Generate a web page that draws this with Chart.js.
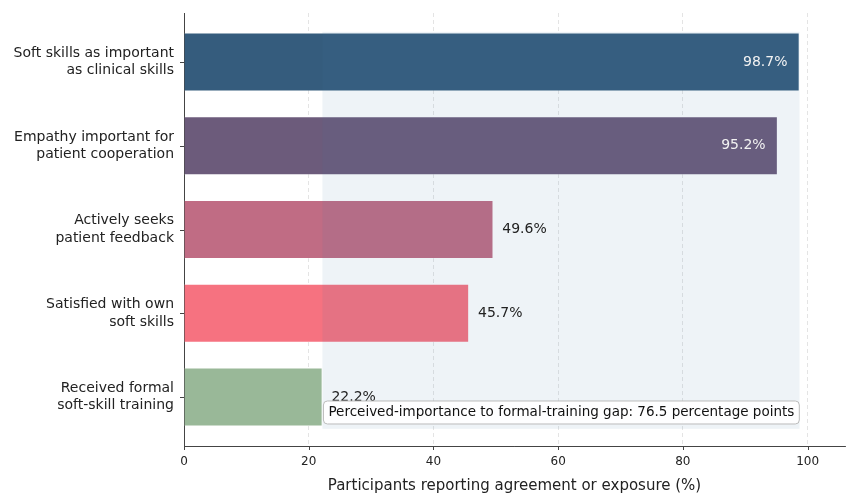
<!DOCTYPE html>
<html>
<head>
<meta charset="utf-8">
<script src="https://cdn.jsdelivr.net/npm/chart.js@4/dist/chart.umd.min.js"></script>
<style>
  body { margin: 0; background: #fff; }
  #wrap { width: 846px; height: 495px; }
</style>
</head>
<body>
<div id="wrap"><canvas id="gapChart"></canvas></div>
<script>
// data
const categories = [
  ['Soft skills as important', 'as clinical skills'],
  ['Empathy important for', 'patient cooperation'],
  ['Actively seeks', 'patient feedback'],
  ['Satisfied with own', 'soft skills'],
  ['Received formal', 'soft-skill training']
];
const values = [98.7, 95.2, 49.6, 45.7, 22.2];
const barColors = ['#355C7D', '#6C5B7B', '#C06C84', '#F67280', '#99B898'];
const xTicks = [0, 20, 40, 60, 80, 100];
const xTitle = 'Participants reporting agreement or exposure (%)';

const FONT = '"DejaVu Sans", sans-serif';

const extras = {
  id: 'extras',
  afterDatasetsDraw(chart) {
    const ctx = chart.ctx;
    const x = chart.scales.x, y = chart.scales.y;
    const meta = chart.getDatasetMeta(0);
    const hi = Math.max(...values), lo = Math.min(...values);
    const x0 = x.getPixelForValue(lo), x1 = x.getPixelForValue(hi);
    const yTop = y.getPixelForValue(-0.36), yBot = y.getPixelForValue(4.38);

    ctx.save();
    // shaded gap between highest and lowest
    ctx.fillStyle = 'rgba(70,120,170,0.09)';
    ctx.fillRect(x0, yTop, x1 - x0, yBot - yTop);

    // value labels
    ctx.font = '14px ' + FONT;
    ctx.textBaseline = 'middle';
    meta.data.forEach((bar, i) => {
      const txt = values[i].toFixed(1) + '%';
      if (values[i] > 90) {
        ctx.fillStyle = '#f2f2f2';
        ctx.textAlign = 'right';
        ctx.fillText(txt, bar.x - 12, bar.y);
      } else {
        ctx.fillStyle = '#222';
        ctx.textAlign = 'left';
        ctx.fillText(txt, bar.x + 9, bar.y);
      }
    });

    // gap annotation
    const note = 'Perceived-importance to formal-training gap: ' + (hi - lo).toFixed(1) + ' percentage points';
    ctx.font = '13.5px ' + FONT;
    const w = ctx.measureText(note).width;
    const bx = x0 + 1, by = y.getPixelForValue(4.185);
    ctx.beginPath();
    ctx.roundRect(bx, by - 11.5, w + 10, 23, 4);
    ctx.fillStyle = 'rgba(255,255,255,0.92)';
    ctx.fill();
    ctx.strokeStyle = '#bbbbbb';
    ctx.lineWidth = 1;
    ctx.stroke();
    ctx.fillStyle = '#111';
    ctx.textAlign = 'left';
    ctx.fillText(note, bx + 5, by + 0.5);

    // tick marks
    ctx.strokeStyle = '#444';
    ctx.lineWidth = 1;
    ctx.beginPath();
    xTicks.forEach(v => {
      const px = Math.round(x.getPixelForValue(v)) + 0.5;
      ctx.moveTo(px, x.top);
      ctx.lineTo(px, x.top + 4);
    });
    categories.forEach((c, i) => {
      const py = Math.round(y.getPixelForValue(i)) + 0.5;
      ctx.moveTo(y.right, py);
      ctx.lineTo(y.right - 4, py);
    });
    ctx.stroke();
    ctx.restore();
  }
};

new Chart(document.getElementById('gapChart'), {
  type: 'bar',
  data: {
    datasets: [{
      data: values.map((v, i) => ({ x: v, y: i })),
      backgroundColor: barColors,
      borderColor: 'rgba(255,255,255,0.45)',
      borderWidth: 0.8,
      categoryPercentage: 1,
      barPercentage: 0.7
    }]
  },
  options: {
    indexAxis: 'y',
    responsive: true,
    maintainAspectRatio: false,
    animation: false,
    layout: { padding: { top: 13, right: 1, left: 0, bottom: 0 } },
    plugins: { legend: { display: false }, tooltip: { enabled: false } },
    scales: {
      x: {
        type: 'linear',
        min: 0,
        max: 106,
        offset: false,
        afterBuildTicks: s => { s.ticks = xTicks.map(v => ({ value: v })); },
        afterFit: s => { s.height = 49; s.paddingLeft = 0; s.paddingRight = 0; },
        grid: {
          drawTicks: false,
          color: ctx => ctx.tick && ctx.tick.value === 0 ? 'rgba(0,0,0,0)' : '#dddddd',
          lineWidth: 0.8
        },
        border: { color: '#444', width: 1, dash: [4, 3] },
        ticks: { padding: 9, color: '#222', font: { family: FONT, size: 12 } },
        title: {
          display: true,
          text: xTitle,
          color: '#222',
          font: { family: FONT, size: 15 },
          padding: { top: 0, bottom: 0 }
        }
      },
      y: {
        type: 'linear',
        reverse: true,
        min: -0.585,
        max: 4.585,
        offset: false,
        z: 1,
        afterBuildTicks: s => { s.ticks = categories.map((c, i) => ({ value: i })); },
        afterFit: s => { s.width = 184; s.paddingTop = 0; s.paddingBottom = 0; },
        grid: { display: false, drawTicks: false, offset: false },
        border: { color: '#444', width: 1 },
        ticks: {
          padding: 10,
          color: '#222',
          font: { family: FONT, size: 14, lineHeight: 1.25 },
          callback: v => categories[v]
        }
      }
    }
  },
  plugins: [extras]
});
</script>
</body>
</html>
